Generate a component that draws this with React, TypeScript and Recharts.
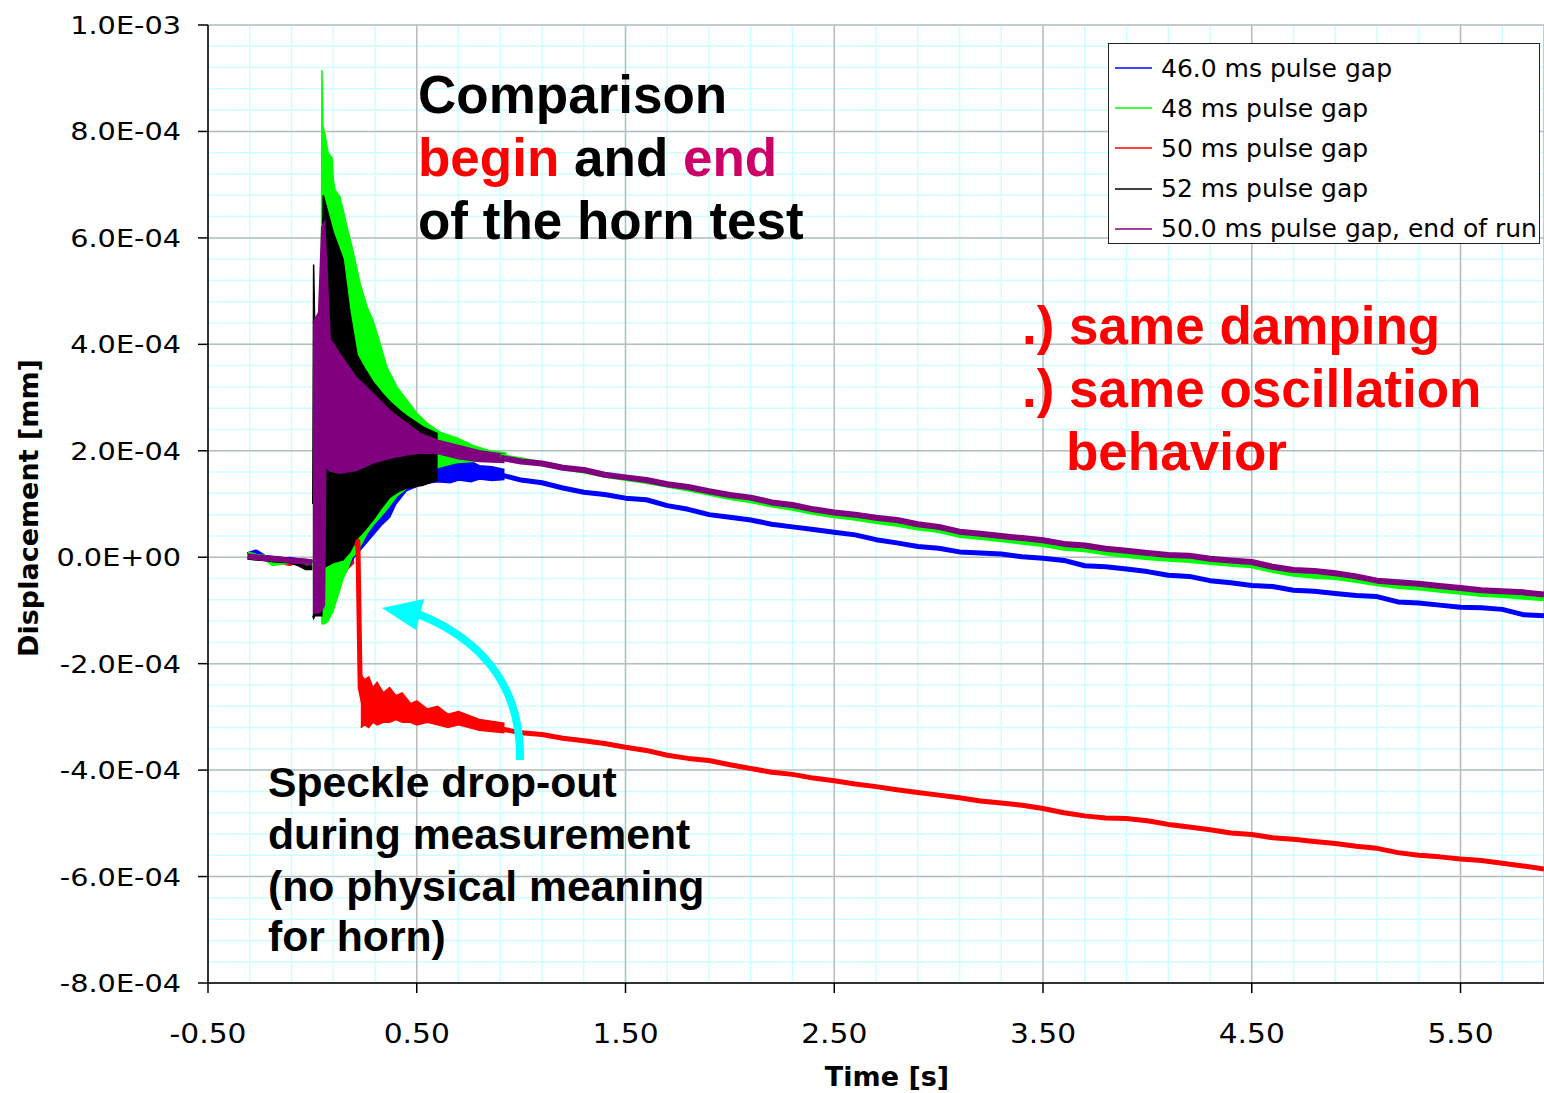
import React from 'react';
import { ComposedChart, Line, Area, XAxis, YAxis, CartesianGrid, Legend } from 'recharts';

const W = 1544;
const H = 1093;
const UNIT = 1e-4; // values below in units of 1E-04 mm

const SERIES_NAMES = [
  '46.0 ms pulse gap',
  '48 ms pulse gap',
  '50 ms pulse gap',
  '52 ms pulse gap',
  '50.0 ms pulse gap, end of run',
];
const SERIES_COLORS = ['#0000FF', '#00FF00', '#FF0000', '#000000', '#800080'];
const LINE_WIDTHS = [5, 5, 5, 5, 6];

const X_TICKS = [-0.5, 0.5, 1.5, 2.5, 3.5, 4.5, 5.5];
const Y_TICKS = [-8e-4, -6e-4, -4e-4, -2e-4, 0, 2e-4, 4e-4, 6e-4, 8e-4, 1e-3];

// quiet part before the pulse
const PRE_T = [-0.31, -0.27, -0.23, -0.19, -0.15, -0.11, -0.07, -0.03, 0.0];
const BLUE_PRE = [0.05, 0.1, 0.0, -0.02, -0.05, -0.04, -0.06, -0.08, -0.1];
const GREEN_PRE = [0.06, 0.02, 0.0, -0.12, -0.1, -0.08, -0.06, -0.1, -0.15];
const RED_PRE = [0.03, 0.05, -0.02, -0.05, -0.08, -0.12, -0.07, -0.1, -0.1];
const BLACK_PRE = [0.0, -0.02, -0.03, -0.05, -0.06, -0.07, -0.12, -0.2, -0.2];
const PURPLE_PRE = [0.02, 0.0, -0.02, -0.03, -0.04, -0.06, -0.07, -0.08, -0.1];

// ringing envelopes: [t, low, high]
const BLUE_BAND = [
  [0.05, -1.0, 3.0], [0.2, 0.0, 3.0], [0.33, 0.6, 2.6], [0.37, 0.75, 2.4],
  [0.4, 1.0, 2.2], [0.45, 1.25, 2.1], [0.53, 1.38, 2.0], [0.6, 1.42, 1.95],
  [0.66, 1.4, 1.9], [0.7, 1.45, 1.85], [0.76, 1.42, 1.8], [0.8, 1.47, 1.72],
  [0.86, 1.44, 1.7], [0.92, 1.46, 1.65],
];
const GREEN_BAND = [
  [0.04, -0.2, 0.5], [0.046, -1.25, 9.15], [0.05, -1.25, 8.1], [0.06, -1.25, 7.95],
  [0.075, -1.2, 7.6], [0.094, -1.05, 7.5], [0.1, -1.0, 7.1], [0.108, -0.9, 6.9],
  [0.132, -0.6, 6.77], [0.147, -0.4, 6.52], [0.166, -0.25, 6.2], [0.19, 0.0, 5.83],
  [0.204, 0.05, 5.58], [0.228, 0.2, 5.15], [0.262, 0.45, 4.7], [0.29, 0.6, 4.45],
  [0.324, 0.75, 4.02], [0.357, 0.9, 3.57], [0.405, 1.15, 3.2], [0.453, 1.3, 2.95],
  [0.501, 1.45, 2.7], [0.549, 1.6, 2.52], [0.611, 1.7, 2.35], [0.693, 1.78, 2.24],
  [0.769, 1.8, 2.1], [0.85, 1.82, 2.0], [0.93, 1.84, 1.96],
];
const RED_BAND = [
  [0.02, -1.05, 2.0], [0.1, -0.5, 1.0], [0.2, -0.1, 0.3], null,
  [0.232, -3.2, -2.2], [0.25, -3.15, -2.3], [0.27, -3.2, -2.25], [0.29, -3.1, -2.45],
  [0.31, -3.15, -2.35], [0.34, -3.1, -2.55], [0.37, -3.1, -2.45], [0.4, -3.05, -2.6],
  [0.43, -3.1, -2.55], [0.47, -3.1, -2.75], [0.5, -3.15, -2.7], [0.55, -3.1, -2.85],
  [0.6, -3.15, -2.8], [0.65, -3.2, -2.95], [0.7, -3.15, -2.9], [0.8, -3.25, -3.05],
  [0.92, -3.3, -3.12],
];
const BLACK_BAND = [
  [0.002, -1.1, 1.0], [0.006, -1.15, 5.5], [0.012, -1.1, 4.2], [0.045, -1.1, 4.8],
  [0.052, -0.2, 6.8], [0.1, -0.1, 6.1], [0.147, -0.05, 5.6], [0.18, 0.1, 4.6],
  [0.214, 0.35, 3.8], [0.25, 0.5, 3.55], [0.29, 0.7, 3.3], [0.33, 0.92, 3.1],
  [0.372, 1.13, 2.92], [0.42, 1.25, 2.75], [0.453, 1.3, 2.65], [0.53, 1.35, 2.45],
  [0.6, 1.45, 2.32],
];
const PURPLE_BAND = [
  [0.003, -1.05, 4.4], [0.03, -1.05, 4.6], [0.045, -1.0, 6.2], [0.058, -0.9, 6.3],
  [0.064, 1.7, 5.9], [0.085, 1.62, 4.1], [0.13, 1.58, 3.83], [0.21, 1.63, 3.38],
  [0.29, 1.77, 3.08], [0.37, 1.86, 2.76], [0.45, 1.92, 2.52], [0.52, 1.96, 2.32],
  [0.6, 1.95, 2.2], [0.7, 1.85, 2.1], [0.8, 1.8, 2.0], [0.92, 1.78, 1.93],
];

// the red trace after the speckle drop-out
const RED_DROP_T = [0.212, 0.218, 0.224, 0.229, 0.245, 0.35, 0.5, 0.65, 0.8];
const RED_DROP = [0.2, 0.3, -1.2, -2.45, -2.75, -2.8, -2.95, -3.05, -3.15];

// slow drift once the ringing has died out
const TREND_T = [
  0.9, 1.0, 1.1, 1.2, 1.3, 1.4, 1.5, 1.6, 1.7, 1.8, 1.9, 2.0, 2.1, 2.2, 2.3, 2.4, 2.5,
  2.6, 2.7, 2.8, 2.9, 3.0, 3.1, 3.2, 3.3, 3.4, 3.5, 3.6, 3.7, 3.8, 3.9, 4.0, 4.1, 4.2,
  4.3, 4.4, 4.5, 4.6, 4.7, 4.8, 4.9, 5.0, 5.1, 5.2, 5.3, 5.4, 5.5, 5.6, 5.7, 5.8, 5.9,
];
const BLUE_TREND = [
  1.55, 1.45, 1.4, 1.3, 1.22, 1.18, 1.11, 1.08, 0.97, 0.9, 0.8, 0.75, 0.7, 0.62, 0.57, 0.52, 0.47,
  0.42, 0.33, 0.27, 0.2, 0.17, 0.1, 0.08, 0.06, 0.01, -0.02, -0.06, -0.16, -0.18, -0.22, -0.27, -0.34, -0.36,
  -0.44, -0.48, -0.53, -0.55, -0.62, -0.64, -0.68, -0.72, -0.74, -0.84, -0.86, -0.9, -0.94, -0.95, -0.98, -1.08, -1.1,
];
const GREEN_TREND = [
  1.9, 1.83, 1.76, 1.68, 1.62, 1.54, 1.48, 1.42, 1.35, 1.28, 1.2, 1.12, 1.06, 0.98, 0.92, 0.84, 0.78,
  0.73, 0.67, 0.62, 0.55, 0.5, 0.41, 0.37, 0.33, 0.28, 0.24, 0.17, 0.14, 0.08, 0.03, -0.01, -0.04, -0.06,
  -0.1, -0.13, -0.16, -0.25, -0.32, -0.36, -0.38, -0.44, -0.5, -0.55, -0.58, -0.62, -0.66, -0.7, -0.72, -0.75, -0.78,
];
const RED_TREND = [
  -3.22, -3.3, -3.33, -3.4, -3.45, -3.5, -3.57, -3.63, -3.72, -3.78, -3.82, -3.9, -3.97, -4.04, -4.08, -4.15, -4.2,
  -4.26, -4.31, -4.37, -4.42, -4.47, -4.52, -4.58, -4.62, -4.66, -4.72, -4.8, -4.86, -4.9, -4.91, -4.95, -5.02, -5.07,
  -5.12, -5.18, -5.21, -5.27, -5.3, -5.34, -5.38, -5.43, -5.47, -5.55, -5.6, -5.63, -5.67, -5.7, -5.75, -5.8, -5.86,
];
const PURPLE_TREND = [
  1.87, 1.8, 1.76, 1.68, 1.64, 1.55, 1.5, 1.45, 1.37, 1.32, 1.24, 1.17, 1.12, 1.03, 0.98, 0.9, 0.84,
  0.8, 0.74, 0.7, 0.62, 0.57, 0.48, 0.44, 0.4, 0.36, 0.32, 0.25, 0.22, 0.16, 0.12, 0.08, 0.04, 0.03,
  -0.03, -0.06, -0.09, -0.18, -0.24, -0.26, -0.3, -0.36, -0.44, -0.47, -0.5, -0.54, -0.58, -0.62, -0.64, -0.66, -0.7,
];

// minor grid positions (every 0.2 s and every 4E-05 mm)
const X_MINOR = Array.from({ length: 33 }, (_, i) => -0.5 + i * 0.2);
const Y_MINOR = Array.from({ length: 46 }, (_, i) => -8e-4 + i * 4e-5);

const toPoints = (ts: number[], vs: number[]) => ts.map((t, i) => ({ t, v: vs[i] * UNIT }));

const lineRows = (pre: number[], postT: number[] = [], post: number[] = []) => [
  ...toPoints(PRE_T, pre),
  { t: 0.001, v: null },
  ...toPoints(postT, post),
];

const bandRows = (band: (number[] | null)[]) =>
  band.map((b, i) => (b ? { t: b[0], r: [b[1] * UNIT, b[2] * UNIT] } : { t: (band[i - 1] as number[])[0] + 0.005, r: null }));

const series = [
  { line: lineRows(BLUE_PRE, TREND_T, BLUE_TREND), band: bandRows(BLUE_BAND) },
  { line: lineRows(GREEN_PRE, TREND_T, GREEN_TREND), band: bandRows(GREEN_BAND) },
  { line: lineRows(RED_PRE, [...RED_DROP_T, ...TREND_T], [...RED_DROP, ...RED_TREND]), band: bandRows(RED_BAND) },
  { line: lineRows(BLACK_PRE), band: bandRows(BLACK_BAND) },
  { line: lineRows(PURPLE_PRE, TREND_T, PURPLE_TREND), band: bandRows(PURPLE_BAND) },
];
// draw order of the original: red at the back, purple on top
const DRAW_ORDER = [2, 0, 1, 3, 4];

const fmtE = (v: number) => {
  if (Math.abs(v) < 1e-12) return '0.0E+00';
  const e = Math.floor(Math.log10(Math.abs(v)) + 1e-9);
  const m = v / Math.pow(10, e);
  return `${m.toFixed(1)}E${e < 0 ? '-' : '+'}${String(Math.abs(e)).padStart(2, '0')}`;
};

const TICK_FONT = '"DejaVu Sans", Verdana, sans-serif';
const BOLD_FONT = '"Liberation Sans", Arial, Helvetica, sans-serif';

const YTick = (props: any) => {
  const { y, payload } = props;
  return (
    <text transform={`translate(181, ${y + 9}) scale(1.15, 1)`} textAnchor="end" fontSize={25} fontFamily={TICK_FONT} fill="#000">
      {fmtE(payload.value)}
    </text>
  );
};

const XTick = (props: any) => {
  const { x, payload } = props;
  return (
    <text transform={`translate(${x}, 1043) scale(1.1, 1)`} textAnchor="middle" fontSize={27} fontFamily={TICK_FONT} fill="#000">
      {payload.value.toFixed(2)}
    </text>
  );
};

const renderLegend = () => (
  <div
    style={{
      width: 432,
      height: 201,
      boxSizing: 'border-box',
      border: '1.5px solid #222',
      background: '#fff',
      paddingTop: 4,
      fontFamily: TICK_FONT,
      fontSize: 25,
      color: '#000',
    }}
  >
    {SERIES_NAMES.map((name, i) => (
      <div key={name} style={{ display: 'flex', alignItems: 'center', height: 40.2, whiteSpace: 'nowrap' }}>
        <svg width={52} height={10} style={{ flex: 'none' }}>
          <line x1={6} x2={43} y1={5} y2={5} stroke={SERIES_COLORS[i]} strokeWidth={1.5} />
        </svg>
        <span>{name}</span>
      </div>
    ))}
  </div>
);

export default function App() {
  return (
    <div style={{ position: 'absolute', left: 0, top: 0, width: W, height: H, background: '#fff' }}>
      <ComposedChart width={W} height={H} margin={{ top: 25, right: 0, bottom: 0, left: 0 }}>
        <CartesianGrid stroke="#CCFFFF" strokeWidth={1.5} verticalValues={X_MINOR} horizontalValues={Y_MINOR} />
        <CartesianGrid stroke="#BBBBBB" strokeWidth={1.5} />
        <XAxis
          type="number"
          dataKey="t"
          domain={[-0.5, 5.9]}
          ticks={X_TICKS}
          interval={0}
          allowDataOverflow
          height={110}
          tickSize={10}
          axisLine={{ stroke: '#000', strokeWidth: 1.5 }}
          tickLine={{ stroke: '#000', strokeWidth: 1.5 }}
          tick={XTick}
        />
        <YAxis
          type="number"
          domain={[-8e-4, 1e-3]}
          ticks={Y_TICKS}
          interval={0}
          allowDataOverflow
          width={208}
          tickSize={10}
          axisLine={{ stroke: '#000', strokeWidth: 1.5 }}
          tickLine={{ stroke: '#000', strokeWidth: 1.5 }}
          tick={YTick}
        />
        {DRAW_ORDER.map((i) => (
          <Area
            key={`band-${i}`}
            data={series[i].band}
            dataKey="r"
            type="linear"
            stroke={SERIES_COLORS[i]}
            strokeWidth={1.5}
            fill={SERIES_COLORS[i]}
            fillOpacity={1}
            dot={false}
            activeDot={false}
            legendType="none"
            isAnimationActive={false}
          />
        ))}
        {DRAW_ORDER.map((i) => (
          <Line
            key={`line-${i}`}
            data={series[i].line}
            dataKey="v"
            name={SERIES_NAMES[i]}
            type="linear"
            stroke={SERIES_COLORS[i]}
            strokeWidth={LINE_WIDTHS[i]}
            strokeLinejoin="round"
            dot={false}
            activeDot={false}
            isAnimationActive={false}
          />
        ))}
        <Legend
          layout="vertical"
          align="center"
          verticalAlign="middle"
          content={renderLegend}
          wrapperStyle={{ left: 1108, top: 43, width: 432 }}
        />
      </ComposedChart>

      <svg width={W} height={H} style={{ position: 'absolute', left: 0, top: 0, pointerEvents: 'none' }}>
        <g fontFamily={BOLD_FONT} fontWeight="bold" fontSize={53} fill="#000">
          <text x={418} y={113}>Comparison</text>
          <text x={418} y={176} style={{ whiteSpace: 'pre' }}>
            <tspan fill="#FF0000">begin</tspan> and <tspan fill="#CC0066">end</tspan>
          </text>
          <text x={418} y={239}>of the horn test</text>
        </g>
        <g fontFamily={BOLD_FONT} fontWeight="bold" fontSize={53} fill="#FF0000">
          <text x={1022} y={344}>.) same damping</text>
          <text x={1022} y={407}>.) same oscillation</text>
          <text x={1066} y={470}>behavior</text>
        </g>
        <g fontFamily={BOLD_FONT} fontWeight="bold" fontSize={42.7} fill="#000">
          <text x={268} y={797}>Speckle drop-out</text>
          <text x={268} y={849}>during measurement</text>
          <text x={268} y={901}>(no physical meaning</text>
          <text x={268} y={951}>for horn)</text>
        </g>
        <path d="M 520 760 C 521 700, 495 645, 418 614" fill="none" stroke="#00FFFF" strokeWidth={8} />
        <polygon points="382,608 424,599 416,630" fill="#00FFFF" />
        <g fontFamily={TICK_FONT} fontWeight="bold" fontSize={27} fill="#000" style={{ whiteSpace: 'pre' }}>
          <text x={887} y={1086} textAnchor="middle">Time  [s]</text>
          <text transform="translate(38, 508) rotate(-90)" textAnchor="middle">Displacement  [mm]</text>
        </g>
      </svg>
    </div>
  );
}
